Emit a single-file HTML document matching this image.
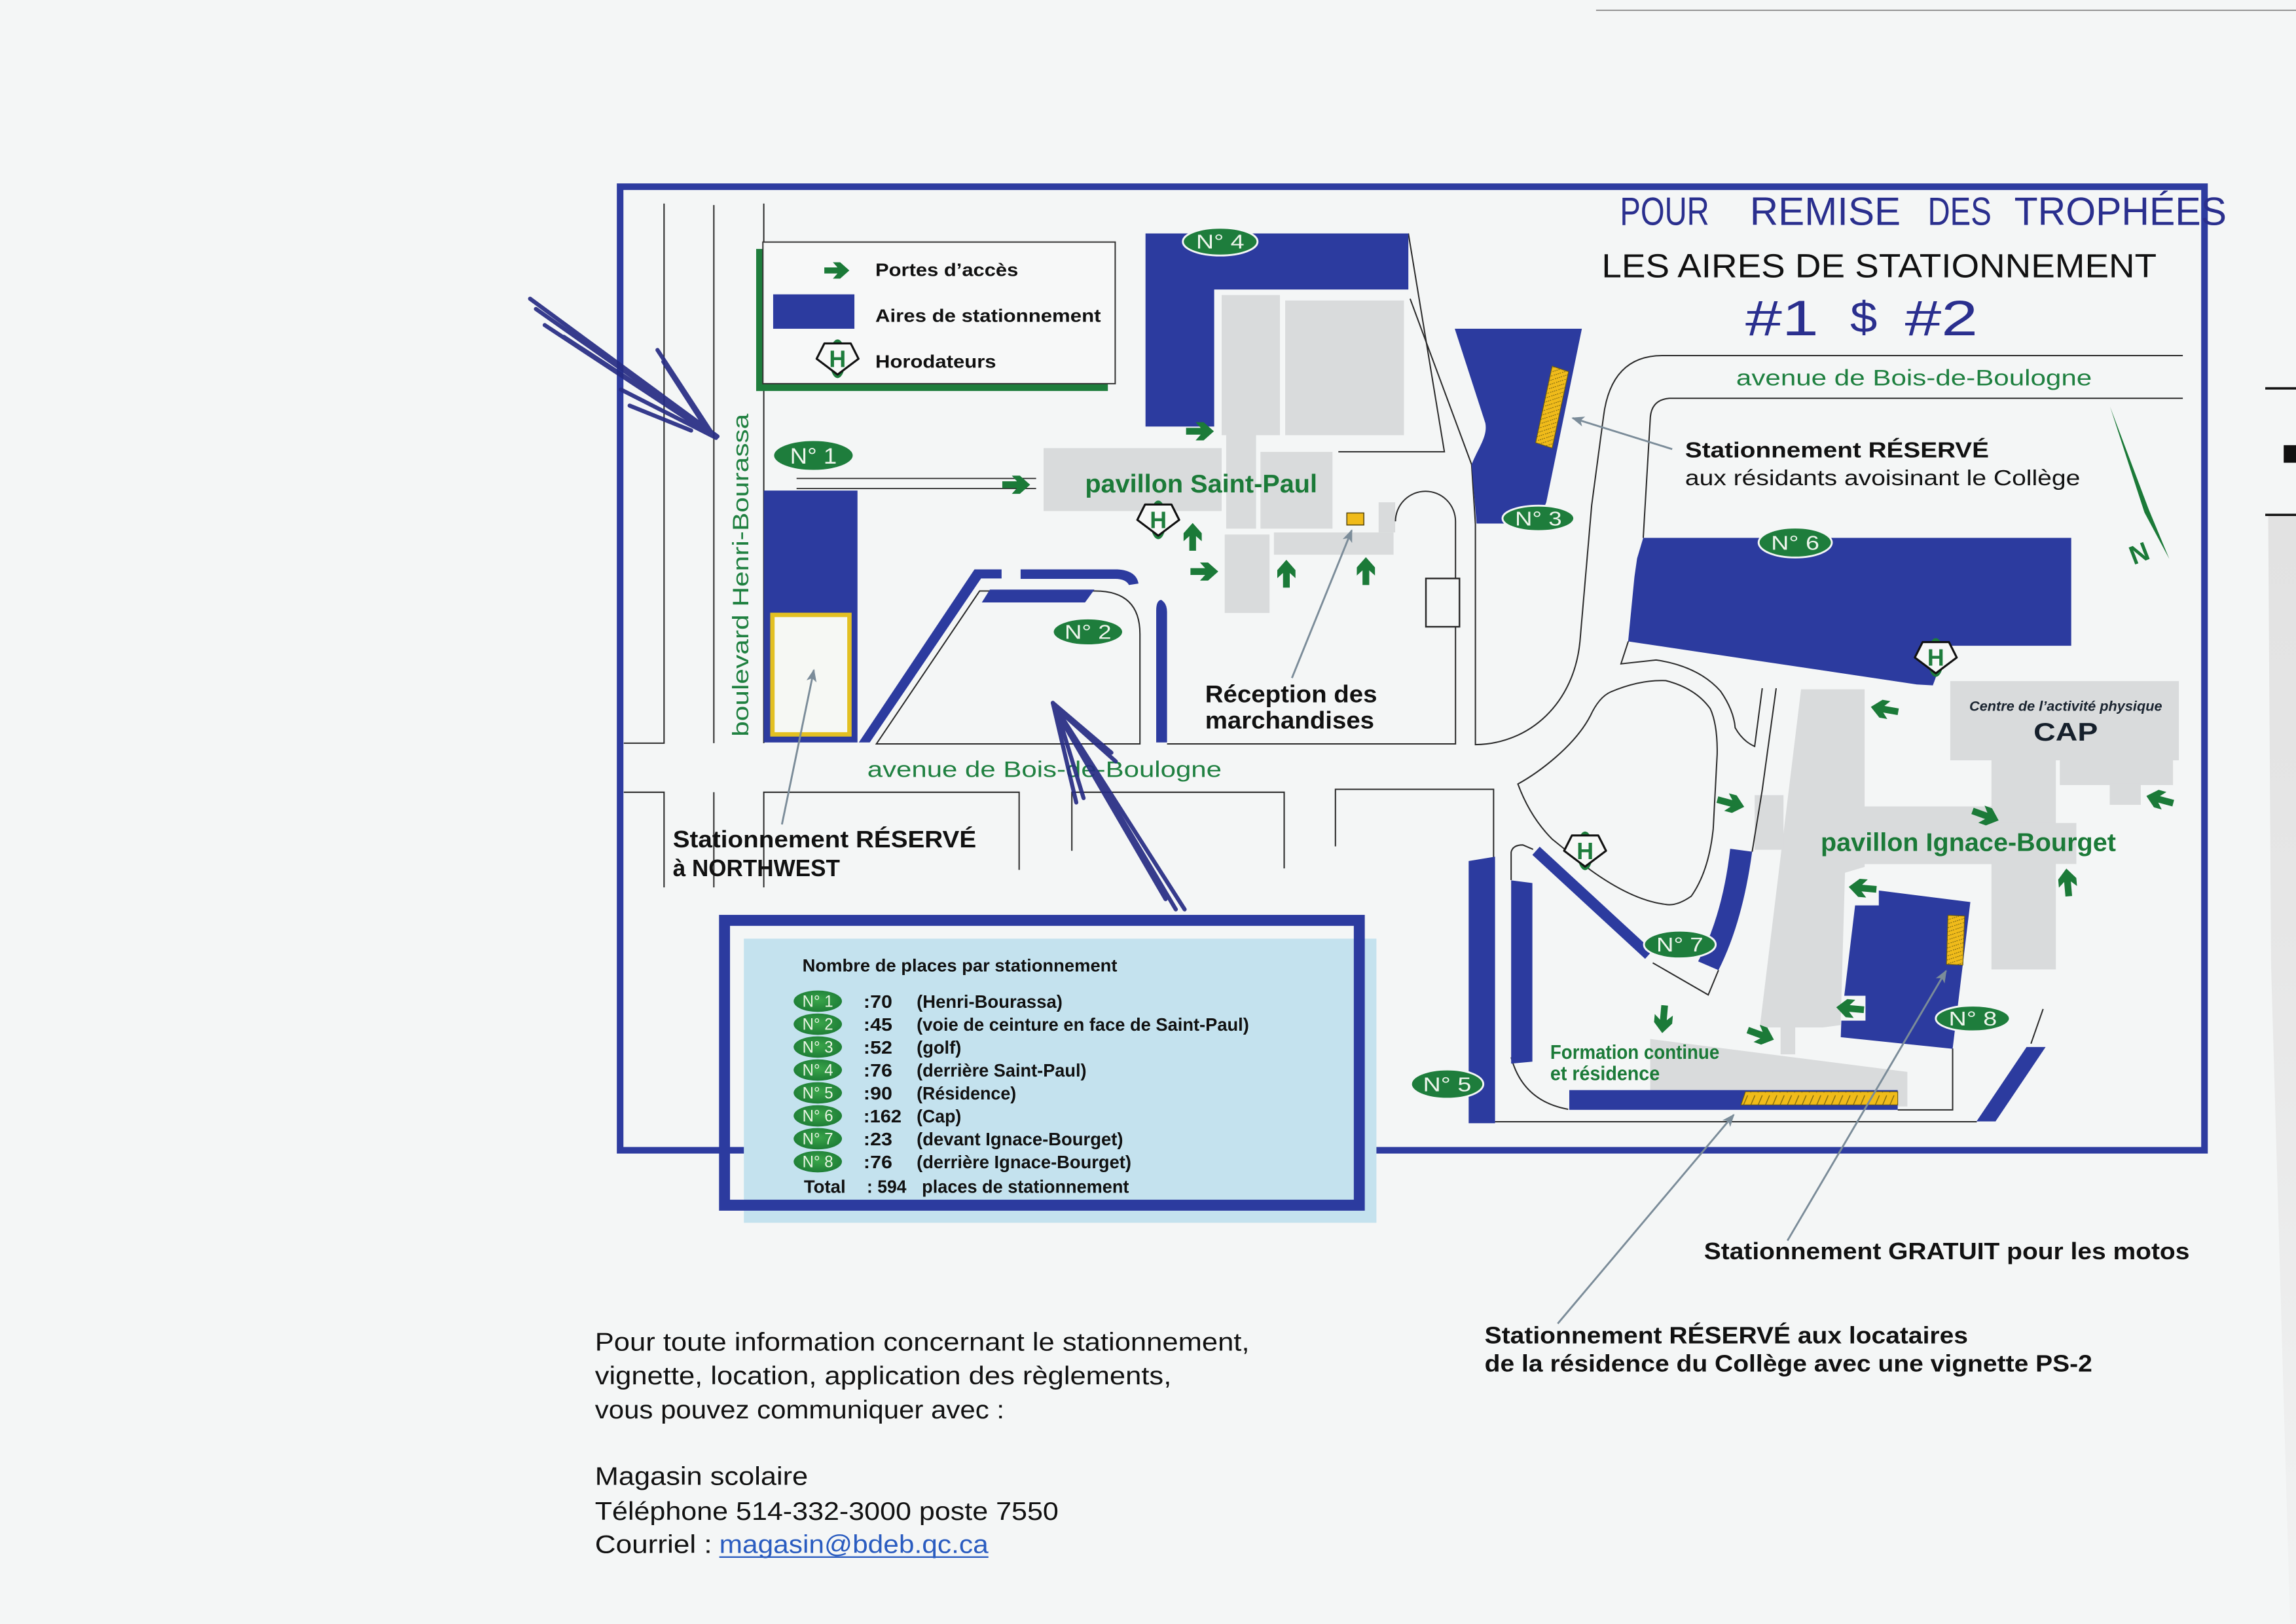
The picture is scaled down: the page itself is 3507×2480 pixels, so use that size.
<!DOCTYPE html>
<html><head><meta charset="utf-8">
<style>
html,body{margin:0;padding:0;background:#f4f6f6;}
svg{display:block;}
text{font-family:"Liberation Sans",Arial,sans-serif;}
</style></head><body>
<svg xmlns="http://www.w3.org/2000/svg" width="3507" height="2480" viewBox="0 0 1568 1109" preserveAspectRatio="none">
<defs>
 <pattern id="hz" width="6" height="2.6" patternUnits="userSpaceOnUse" patternTransform="rotate(-18)">
  <rect width="6" height="2.6" fill="#f0bb1a"/>
  <line x1="0" y1="2.2" x2="5" y2="2.2" stroke="#6e5c12" stroke-width="0.45" stroke-dasharray="0.8 0.6"/>
 </pattern>
 <pattern id="dg" width="5" height="9" patternUnits="userSpaceOnUse">
  <rect width="5" height="9" fill="#f0bb1a"/>
  <line x1="0.5" y1="8" x2="3.5" y2="1" stroke="#7a6512" stroke-width="0.6"/>
 </pattern>
 <path id="arw" d="M-9.5,-2.3 H0.5 L-3,-6.2 H2.5 L9.5,0 L2.5,6.2 H-3 L0.5,2.3 H-9.5 Z" fill="#1b7a38"/>
 <marker id="mk" viewBox="0 0 10 8" refX="9" refY="4" markerWidth="9" markerHeight="7" markerUnits="userSpaceOnUse" orient="auto"><path d="M0,0 L10,4 L0,8 L2.5,4 Z" fill="#7b8c99"/></marker>
 <radialGradient id="og" cx="50%" cy="45%" r="60%"><stop offset="0" stop-color="#3aa54a"/><stop offset="1" stop-color="#1b7a34"/></radialGradient>
 <linearGradient id="rg" x1="0" y1="0" x2="0" y2="1"><stop offset="0" stop-color="#e2e2e2"/><stop offset="0.35" stop-color="#e6e6e6"/><stop offset="1" stop-color="#f1f2f2"/></linearGradient>
</defs>

<rect x="0" y="0" width="1568" height="1109" fill="#f4f6f6"/>

<!-- page edge marks -->
<line x1="1090" y1="7" x2="1568" y2="7" stroke="#777" stroke-width="0.7"/>
<polygon points="1549,352 1568,352 1568,1109 1564,1109 1551,660" fill="url(#rg)"/>
<line x1="1547" y1="265.2" x2="1568" y2="265.2" stroke="#111" stroke-width="1.6"/>
<rect x="1559.6" y="304" width="8.4" height="12" fill="#111"/>
<line x1="1547" y1="351.6" x2="1568" y2="351.6" stroke="#111" stroke-width="1.6"/>

<!-- gray buildings Saint-Paul -->
<g fill="#d9dbdc">
 <rect x="712.7" y="306" width="121.6" height="43"/>
 <rect x="834.3" y="201.5" width="39.8" height="95.7"/>
 <rect x="877.7" y="205.2" width="81.1" height="92"/>
 <rect x="837.4" y="297" width="20.4" height="64"/>
 <rect x="860.8" y="308.6" width="49.2" height="52.4"/>
 <rect x="836.4" y="365" width="30.6" height="53.6"/>
 <rect x="870" y="363.6" width="81.7" height="15.2"/>
 <rect x="941.5" y="343" width="11.3" height="20.6"/>
</g>
<!-- gray buildings Ignace-Bourget / CAP -->
<g fill="#d9dbdc">
 <rect x="1331.9" y="465.1" width="156.1" height="54.1"/>
 <rect x="1406.7" y="519" width="77.3" height="17.1"/>
 <rect x="1440.8" y="535" width="21.2" height="14.6"/>
 <rect x="1360" y="519" width="44" height="143"/>
 <rect x="1265" y="550.7" width="99.4" height="39.4"/>
 <rect x="1360" y="562" width="58" height="28"/>
 <polygon points="1230,470.7 1273.4,470.7 1273.4,592 1260,596 1257,700 1245,701.6 1201.8,701.6"/>
 <rect x="1198.3" y="543" width="19.7" height="37.3"/>
 <rect x="1216" y="699" width="10" height="21"/>
 <polygon points="1127,709.5 1302.6,732 1302.6,755.6 1127,755.6"/>
</g>

<!-- road lines -->
<g fill="none" stroke="#2a2a2a" stroke-width="0.9">
 <path d="M426,507.5 H453.5 V139"/>
 <path d="M487.5,140 V507.5"/>
 <path d="M521.6,139 V507.5"/>
 <path d="M426,541 H453.5 V606"/>
 <path d="M487.5,541 V606"/>
 <path d="M521.6,606 V541 H696 V594"/>
 <path d="M732,581 V541 H877 V593"/>
 <path d="M912,578 V539 H1020 V586"/>
 <path d="M598.5,508 L669,403.6 H748 Q778.5,403.6 778.5,433 V508 Z"/>
 <path d="M797,508 H994 V356 A20.5,20.5 0 0 0 953,356"/>
 <path d="M914,308.5 H986.4 L961.8,159.4"/>
 <path d="M963,204 L1005,317.2 L1007.6,358 L1007.6,508.5 C1045,508 1075,480 1079,438 L1087,345 L1095,285 Q1100,243 1135,242.8 H1490.7"/>
 <path d="M1490.7,272 H1140 Q1127.5,273 1127,286 L1122.2,367.3"/>
 <path d="M1112,438 L1107,453.3 L1131,450.7 Q1160,455 1175,472 Q1184,485 1185,497 Q1190,506 1198.3,509.7 L1203.5,470"/>
 <path d="M1213,470 L1203.4,540 L1196.6,581.6"/>
 <path d="M1036.6,535.4 C1050,528 1075,510 1086,489 Q1092,476 1100,472.5 Q1120,464 1137.6,464.8 Q1158,470 1168,484 Q1173,495 1172.7,515 L1170,566 Q1167,595 1155,612 Q1145,619 1137.6,617.6 Q1115,615 1086,594 L1060,573 Q1045,558 1036.6,535.4 Z"/>
 <path d="M1032,601 V582 Q1033,577 1040,577 L1047,580"/>
 <path d="M1128.7,657.5 L1166.6,679.4 L1173.6,662.5"/>
 <path d="M1032,722 Q1040,752 1071,757.5"/>
 <path d="M1296,757.9 H1333.5 V716"/>
 <path d="M1021,766 H1350"/>
 <path d="M1395.3,689 L1387,712.7"/>
 <rect x="973.8" y="395" width="22.9" height="33" fill="#f4f6f6" stroke-width="1.1"/>
 <path d="M544,326.7 H707.6 M544,333.6 H707.6" stroke-width="0.8"/>
</g>

<!-- blue parking areas -->
<g fill="#2c3b9f">
 <polygon points="782.3,159.4 961.8,159.4 961.8,197.7 829.2,197.7 829.2,291.3 782.3,291.3"/>
 <rect x="521.6" y="335" width="64" height="172"/>
 <polygon points="586.5,507 665.5,388.8 684,388.8 684,395 670,395 594,507"/>
 <path d="M697,388.8 L763,388.8 Q776,389.5 777.5,398.5 L771,399.5 Q769,395.5 762,395.3 L697,395.3 Z"/>
 <polygon points="676,402.6 747.4,402.6 741,411.4 670.5,411.4"/>
 <path d="M789.6,507 V417 Q789.6,410 793,409.6 Q797,412 797,418 V507 Z"/>
 <path d="M993.5,224.5 L1080.3,224.5 L1056,343 L1050,357.5 L1008.4,357.5 L1005,317.2 C1010,305 1016,298 1014.4,289 Z"/>
 <polygon points="1122.2,367.3 1414.5,367.3 1414.5,441 1330,441 1320,468 1309,467.4 1111.9,438 1116.2,394 1118,381.4"/>
 <polygon points="1003,588 1021,585 1021,767 1003,767"/>
 <polygon points="1032,601.2 1046.5,603 1046.5,725 1032,726.3"/>
 <polygon points="1046.5,583.8 1051.5,578.2 1128.5,649.2 1123.5,654.8"/>
 <path d="M1181.6,579.6 L1196.6,581.6 Q1190,630 1173.6,662.5 L1159.7,656.5 L1163,650 Q1177,620 1181.6,579.6 Z"/>
 <rect x="1071.7" y="744.4" width="224.3" height="13.5"/>
 <polygon points="1283.1,608.1 1345.6,616 1333.5,716.2 1257.1,708.3 1257.5,697 1274,697 1274,680 1259.5,680 1266.9,618.3 1283.1,618.3"/>
 <polygon points="1384,715 1397,715 1362.8,765.8 1349.8,765.8"/>
</g>
<rect x="527.5" y="419.9" width="52.6" height="81.6" fill="#f6f8f4" stroke="#e3c022" stroke-width="3"/>

<!-- yellow reserved strips -->
<polygon points="1060,250 1071.2,253.8 1060,306 1048.7,302.3" fill="url(#hz)" stroke="#6a5a10" stroke-width="0.5"/>
<polygon points="1330.3,625 1341.7,625.5 1340.5,659 1329.3,658.5" fill="url(#hz)" stroke="#6a5a10" stroke-width="0.5"/>
<polygon points="1192,745.5 1296,745.5 1296,754.5 1189,754.5" fill="url(#dg)" stroke="#6a5a10" stroke-width="0.5"/>
<rect x="919.8" y="350.3" width="11.6" height="8.2" fill="#f0bb1a" stroke="#5a4a10" stroke-width="0.7"/>

<!-- map frame -->
<rect x="423.5" y="127.5" width="1082" height="658" fill="none" stroke="#2e3ca0" stroke-width="4.5"/>

<!-- legend -->
<rect x="516.4" y="170" width="4.8" height="97" fill="#1e7d3c"/>
<rect x="516.4" y="262" width="240.2" height="5" fill="#1e7d3c"/>
<rect x="521" y="165.3" width="240.6" height="96.7" fill="#f7f8f8" stroke="#333" stroke-width="0.9"/>
<use href="#arw" transform="translate(571.5,184.7) scale(0.9)"/>
<rect x="528" y="201" width="55.5" height="23.5" fill="#2c3b9f"/>
<g transform="translate(572,245)">
 <ellipse cx="0" cy="0" rx="5.5" ry="13.2" fill="#1e7d3c"/>
 <polygon points="-9,-10.5 9,-10.5 14.3,0 0,10.8 -14.3,0" fill="#f7f8f7" stroke="#111" stroke-width="1.4" stroke-linejoin="round"/>
 <text x="0" y="5.6" text-anchor="middle" font-size="16" font-weight="bold" fill="#1e7d3c">H</text>
</g>
<g font-size="12.5" font-weight="bold" fill="#111">
 <text x="597.8" y="188.6" textLength="97.6" lengthAdjust="spacingAndGlyphs">Portes d’accès</text>
 <text x="597.8" y="219.8" textLength="154" lengthAdjust="spacingAndGlyphs">Aires de stationnement</text>
 <text x="597.8" y="251.2" textLength="82.5" lengthAdjust="spacingAndGlyphs">Horodateurs</text>
</g>

<!-- H icons on map -->
<g transform="translate(791,355)">
 <ellipse cx="0" cy="0" rx="5.5" ry="13.2" fill="#1e7d3c"/>
 <polygon points="-9,-10.5 9,-10.5 14.3,0 0,10.8 -14.3,0" fill="#f7f8f7" stroke="#111" stroke-width="1.4" stroke-linejoin="round"/>
 <text x="0" y="5.6" text-anchor="middle" font-size="16" font-weight="bold" fill="#1e7d3c">H</text>
</g>
<g transform="translate(1322,449)">
 <ellipse cx="0" cy="0" rx="5.5" ry="13.2" fill="#1e7d3c"/>
 <polygon points="-9,-10.5 9,-10.5 14.3,0 0,10.8 -14.3,0" fill="#f7f8f7" stroke="#111" stroke-width="1.4" stroke-linejoin="round"/>
 <text x="0" y="5.6" text-anchor="middle" font-size="16" font-weight="bold" fill="#1e7d3c">H</text>
</g>
<g transform="translate(1082.5,581)">
 <ellipse cx="0" cy="0" rx="5.5" ry="13.2" fill="#1e7d3c"/>
 <polygon points="-9,-10.5 9,-10.5 14.3,0 0,10.8 -14.3,0" fill="#f7f8f7" stroke="#111" stroke-width="1.4" stroke-linejoin="round"/>
 <text x="0" y="5.6" text-anchor="middle" font-size="16" font-weight="bold" fill="#1e7d3c">H</text>
</g>

<!-- green access arrows -->
<use href="#arw" transform="translate(694,331)"/>
<use href="#arw" transform="translate(819.5,294.5)"/>
<use href="#arw" transform="translate(814.5,366.6) rotate(-90)"/>
<use href="#arw" transform="translate(822.5,390.3)"/>
<use href="#arw" transform="translate(878.5,391.8) rotate(-90)"/>
<use href="#arw" transform="translate(932.8,390) rotate(-90)"/>
<use href="#arw" transform="translate(1287,484.4) rotate(190)"/>
<use href="#arw" transform="translate(1182,548.5) rotate(15)"/>
<use href="#arw" transform="translate(1475,546) rotate(195)"/>
<use href="#arw" transform="translate(1356,557) rotate(20)"/>
<use href="#arw" transform="translate(1412,602.6) rotate(-95)"/>
<use href="#arw" transform="translate(1272,606.5) rotate(185)"/>
<use href="#arw" transform="translate(1263.5,688.7) rotate(185)"/>
<use href="#arw" transform="translate(1136,696) rotate(95)"/>
<use href="#arw" transform="translate(1202.5,706.7) rotate(20)"/>

<!-- N ovals on map -->
<g stroke="#f4f6f6" stroke-width="1.3" fill="#1e7d3c">
 <ellipse cx="555.5" cy="311" rx="27.5" ry="10.5"/>
 <ellipse cx="743" cy="431.5" rx="24" ry="9.2"/>
 <ellipse cx="1050.6" cy="354" rx="24.5" ry="8.7"/>
 <ellipse cx="833.3" cy="165" rx="25.5" ry="9.5"/>
 <ellipse cx="988.3" cy="740.3" rx="24.7" ry="10"/>
 <ellipse cx="1226" cy="370.5" rx="25" ry="10.2"/>
 <ellipse cx="1147.2" cy="645" rx="24.5" ry="9.5"/>
 <ellipse cx="1347.3" cy="695.5" rx="25.3" ry="8.8"/>
</g>
<g fill="#eef5ec" font-size="13.5" text-anchor="middle">
 <text x="555.5" y="316.5" font-size="15.5" textLength="32" lengthAdjust="spacingAndGlyphs">N° 1</text>
 <text x="743" y="436.3" textLength="32" lengthAdjust="spacingAndGlyphs">N° 2</text>
 <text x="1050.6" y="358.8" textLength="32" lengthAdjust="spacingAndGlyphs">N° 3</text>
 <text x="833.3" y="169.8" textLength="33" lengthAdjust="spacingAndGlyphs">N° 4</text>
 <text x="988.3" y="745.2" textLength="33" lengthAdjust="spacingAndGlyphs">N° 5</text>
 <text x="1226" y="375.4" textLength="33" lengthAdjust="spacingAndGlyphs">N° 6</text>
 <text x="1147.2" y="649.8" textLength="32" lengthAdjust="spacingAndGlyphs">N° 7</text>
 <text x="1347.3" y="700.3" textLength="33" lengthAdjust="spacingAndGlyphs">N° 8</text>
</g>

<!-- north needle -->
<polygon points="1441,277.7 1467.5,348 1481.5,381.7 1464.5,350" fill="#1b7a38"/>
<text transform="translate(1461,378) rotate(-21)" x="0" y="6" text-anchor="middle" font-size="18" font-weight="bold" fill="#1b7a38">N</text>

<!-- callout arrows -->
<g stroke="#7b8c99" stroke-width="1.3" fill="none" marker-end="url(#mk)">
 <line x1="534" y1="563" x2="555.8" y2="457.6"/>
 <line x1="882.3" y1="463" x2="923.1" y2="362.2"/>
 <line x1="1142" y1="306.7" x2="1074" y2="285.5"/>
 <line x1="1220.7" y1="847.2" x2="1329" y2="663"/>
 <line x1="1063.8" y1="903.9" x2="1184" y2="761.3"/>
</g>

<!-- map labels -->
<g fill="#1f8040" font-size="15.5">
 <text x="1185.7" y="263.2" textLength="242.9" lengthAdjust="spacingAndGlyphs">avenue de Bois-de-Boulogne</text>
 <text x="592.3" y="530.6" textLength="242" lengthAdjust="spacingAndGlyphs">avenue de Bois-de-Boulogne</text>
 <text transform="translate(511,503) rotate(-90)" x="0" y="0" textLength="220.5" lengthAdjust="spacingAndGlyphs">boulevard Henri-Bourassa</text>
</g>
<g fill="#1b7a38" font-weight="bold">
 <text x="741" y="336.3" font-size="17.5" textLength="158.6" lengthAdjust="spacingAndGlyphs">pavillon Saint-Paul</text>
 <text x="1243.4" y="581" font-size="17.5" textLength="201.6" lengthAdjust="spacingAndGlyphs">pavillon Ignace-Bourget</text>
 <text x="1058.7" y="723" font-size="13.5" textLength="115.5" lengthAdjust="spacingAndGlyphs">Formation continue</text>
 <text x="1058.7" y="737.6" font-size="13.5" textLength="74.8" lengthAdjust="spacingAndGlyphs">et résidence</text>
</g>
<text x="1344.9" y="485.4" font-size="9.5" font-style="italic" font-weight="bold" fill="#1a2430" textLength="131.7" lengthAdjust="spacingAndGlyphs">Centre de l’activité physique</text>
<text x="1388.8" y="505.7" font-size="17.5" font-weight="bold" fill="#16202c" textLength="43.9" lengthAdjust="spacingAndGlyphs">CAP</text>

<g fill="#111" font-weight="bold">
 <text x="823" y="479.6" font-size="16.5" textLength="117.5" lengthAdjust="spacingAndGlyphs">Réception des</text>
 <text x="823" y="497.5" font-size="16.5" textLength="115.5" lengthAdjust="spacingAndGlyphs">marchandises</text>
 <text x="459.5" y="578.7" font-size="16" textLength="207.2" lengthAdjust="spacingAndGlyphs">Stationnement RÉSERVÉ</text>
 <text x="459.5" y="598.4" font-size="16" textLength="114.1" lengthAdjust="spacingAndGlyphs">à NORTHWEST</text>
 <text x="1150.8" y="312.3" font-size="15" textLength="207.5" lengthAdjust="spacingAndGlyphs">Stationnement RÉSERVÉ</text>
 <text x="1163.7" y="860" font-size="16" textLength="331.6" lengthAdjust="spacingAndGlyphs">Stationnement GRATUIT pour les motos</text>
 <text x="1013.9" y="917.4" font-size="16" textLength="330.1" lengthAdjust="spacingAndGlyphs">Stationnement RÉSERVÉ aux locataires</text>
 <text x="1013.9" y="936.6" font-size="16" textLength="415" lengthAdjust="spacingAndGlyphs">de la résidence du Collège avec une vignette PS-2</text>
</g>
<text x="1150.8" y="331.3" font-size="15" fill="#111" textLength="269.8" lengthAdjust="spacingAndGlyphs">aux résidants avoisinant le Collège</text>

<!-- title -->
<text x="1093.8" y="189.4" font-size="23" fill="#111" textLength="379" lengthAdjust="spacingAndGlyphs">LES AIRES DE STATIONNEMENT</text>

<!-- table -->
<rect x="508" y="641" width="432" height="194" fill="#c4e2ee"/>
<rect x="494.8" y="628.5" width="433.5" height="194.5" fill="none" stroke="#2c3b9f" stroke-width="7.5"/>
<text x="548" y="663.5" font-size="12" font-weight="bold" fill="#111" textLength="215" lengthAdjust="spacingAndGlyphs">Nombre de places par stationnement</text>
<g fill="url(#og)">
 <ellipse cx="558.5" cy="683.7" rx="16.5" ry="7.3"/>
 <ellipse cx="558.5" cy="699.4" rx="16.5" ry="7.3"/>
 <ellipse cx="558.5" cy="715" rx="16.5" ry="7.3"/>
 <ellipse cx="558.5" cy="730.7" rx="16.5" ry="7.3"/>
 <ellipse cx="558.5" cy="746.3" rx="16.5" ry="7.3"/>
 <ellipse cx="558.5" cy="762" rx="16.5" ry="7.3"/>
 <ellipse cx="558.5" cy="777.6" rx="16.5" ry="7.3"/>
 <ellipse cx="558.5" cy="793.3" rx="16.5" ry="7.3"/>
</g>
<g fill="#eaf5e4" font-size="11" text-anchor="middle">
 <text x="558.5" y="687.6" textLength="21" lengthAdjust="spacingAndGlyphs">N° 1</text>
 <text x="558.5" y="703.3" textLength="21" lengthAdjust="spacingAndGlyphs">N° 2</text>
 <text x="558.5" y="718.9" textLength="21" lengthAdjust="spacingAndGlyphs">N° 3</text>
 <text x="558.5" y="734.6" textLength="21" lengthAdjust="spacingAndGlyphs">N° 4</text>
 <text x="558.5" y="750.2" textLength="21" lengthAdjust="spacingAndGlyphs">N° 5</text>
 <text x="558.5" y="765.9" textLength="21" lengthAdjust="spacingAndGlyphs">N° 6</text>
 <text x="558.5" y="781.5" textLength="21" lengthAdjust="spacingAndGlyphs">N° 7</text>
 <text x="558.5" y="797.2" textLength="21" lengthAdjust="spacingAndGlyphs">N° 8</text>
</g>
<g fill="#111" font-size="12.5" font-weight="bold">
 <text x="589.7" y="688.2" textLength="19.7" lengthAdjust="spacingAndGlyphs">:70</text>
 <text x="626" y="688.2" textLength="99.6" lengthAdjust="spacingAndGlyphs">(Henri-Bourassa)</text>
 <text x="589.7" y="703.9" textLength="19.7" lengthAdjust="spacingAndGlyphs">:45</text>
 <text x="626" y="703.9" textLength="227" lengthAdjust="spacingAndGlyphs">(voie de ceinture en face de Saint-Paul)</text>
 <text x="589.7" y="719.5" textLength="19.7" lengthAdjust="spacingAndGlyphs">:52</text>
 <text x="626" y="719.5" textLength="30.5" lengthAdjust="spacingAndGlyphs">(golf)</text>
 <text x="589.7" y="735.2" textLength="19.7" lengthAdjust="spacingAndGlyphs">:76</text>
 <text x="626" y="735.2" textLength="116" lengthAdjust="spacingAndGlyphs">(derrière Saint-Paul)</text>
 <text x="589.7" y="750.8" textLength="19.7" lengthAdjust="spacingAndGlyphs">:90</text>
 <text x="626" y="750.8" textLength="68" lengthAdjust="spacingAndGlyphs">(Résidence)</text>
 <text x="589.7" y="766.5" textLength="26" lengthAdjust="spacingAndGlyphs">:162</text>
 <text x="626" y="766.5" textLength="30.5" lengthAdjust="spacingAndGlyphs">(Cap)</text>
 <text x="589.7" y="782.1" textLength="19.7" lengthAdjust="spacingAndGlyphs">:23</text>
 <text x="626" y="782.1" textLength="141" lengthAdjust="spacingAndGlyphs">(devant Ignace-Bourget)</text>
 <text x="589.7" y="797.8" textLength="19.7" lengthAdjust="spacingAndGlyphs">:76</text>
 <text x="626" y="797.8" textLength="146.6" lengthAdjust="spacingAndGlyphs">(derrière Ignace-Bourget)</text>
 <text x="549" y="814.5" textLength="28.5" lengthAdjust="spacingAndGlyphs">Total</text>
 <text x="592" y="814.5" textLength="27" lengthAdjust="spacingAndGlyphs">: 594</text>
 <text x="629.6" y="814.5" textLength="141.4" lengthAdjust="spacingAndGlyphs">places de stationnement</text>
</g>

<!-- info text -->
<g fill="#111" font-size="17.5">
 <text x="406.3" y="922.2" textLength="447" lengthAdjust="spacingAndGlyphs">Pour toute information concernant le stationnement,</text>
 <text x="406.3" y="945.4" textLength="393.7" lengthAdjust="spacingAndGlyphs">vignette, location, application des règlements,</text>
 <text x="406.3" y="968.5" textLength="279.6" lengthAdjust="spacingAndGlyphs">vous pouvez communiquer avec :</text>
 <text x="406.3" y="1014" textLength="145.5" lengthAdjust="spacingAndGlyphs">Magasin scolaire</text>
 <text x="406.3" y="1038" textLength="316.6" lengthAdjust="spacingAndGlyphs">Téléphone 514-332-3000 poste 7550</text>
 <text x="406.3" y="1060.4" textLength="80" lengthAdjust="spacingAndGlyphs">Courriel :</text>
 <text x="491.2" y="1060.4" fill="#2a5cc0" textLength="183.8" lengthAdjust="spacingAndGlyphs">magasin@bdeb.qc.ca</text>
</g>
<line x1="491.2" y1="1063.3" x2="675" y2="1063.3" stroke="#2a5cc0" stroke-width="1.1"/>

<!-- handwriting -->
<g fill="#2a2f8e" font-size="27" font-family="'DejaVu Sans',sans-serif">
 <text x="1106.3" y="153.6" textLength="61" lengthAdjust="spacingAndGlyphs">POUR</text>
 <text x="1195" y="153.6" textLength="103" lengthAdjust="spacingAndGlyphs">REMISE</text>
 <text x="1316.5" y="153.6" textLength="43.5" lengthAdjust="spacingAndGlyphs">DES</text>
 <text x="1375.6" y="153.6" textLength="145" lengthAdjust="spacingAndGlyphs">TROPHÉES</text>
 <text x="1192" y="229" font-size="34" textLength="50" lengthAdjust="spacingAndGlyphs">#1</text>
 <text x="1263.5" y="227" font-size="30" textLength="18.5" lengthAdjust="spacingAndGlyphs">$</text>
 <text x="1300.9" y="229" font-size="34" textLength="49.8" lengthAdjust="spacingAndGlyphs">#2</text>
</g>

<!-- pen scribbles -->
<g stroke="#262c84" stroke-width="2.8" stroke-linecap="round" fill="none" opacity="0.92">
 <path d="M362,204 L490,298"/>
 <path d="M366,211 L487,296"/>
 <path d="M372,222 L489,299"/>
 <path d="M385,230 L480,292"/>
 <path d="M449,239 L487,297"/>
 <path d="M453,247 L484,295"/>
 <path d="M424,266 L489,299"/>
 <path d="M430,277 L472,294"/>
 <path d="M719,480 L809,621"/>
 <path d="M722,485 L803,621"/>
 <path d="M725,492 L796,614"/>
 <path d="M719,480 L735,548"/>
 <path d="M722,486 L740,545"/>
 <path d="M719,480 L759,514"/>
 <path d="M724,486 L762,520"/>
</g>
</svg>
</body></html>
